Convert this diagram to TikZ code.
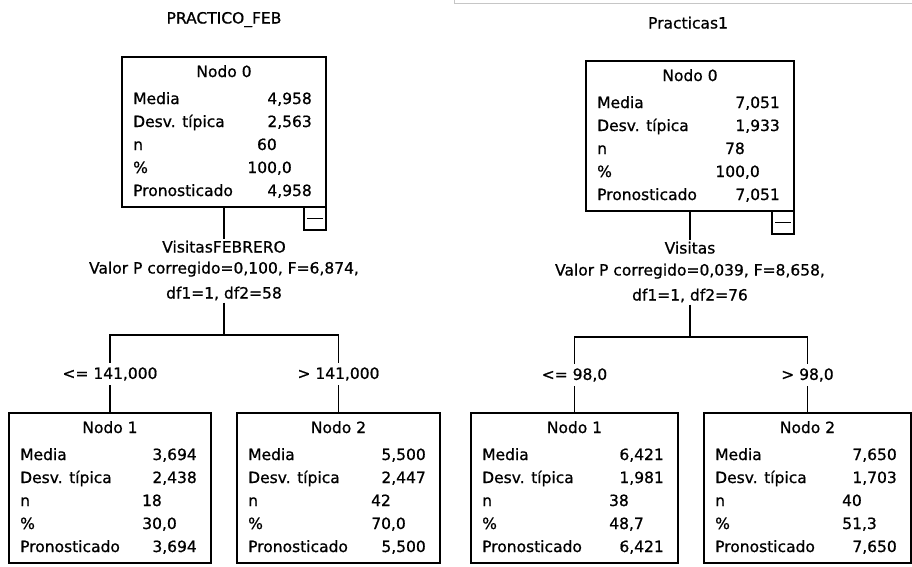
\documentclass[tikz,border=0pt]{standalone}
\usepackage{fontspec}
\setmainfont{DejaVu Sans}[RawFeature={embolden=0.8}]
\begin{document}
\begin{tikzpicture}[x=1pt,y=-1pt,
    font=\fontsize{15.5}{20}\selectfont,
    treebox/.style={draw,line width=1.6pt,fill=white,minimum height=150pt,inner sep=0pt,outer sep=0pt,anchor=north west},
    minusbox/.style={draw,line width=1.6pt,minimum width=22pt,minimum height=23pt,inner sep=0pt,outer sep=0pt,anchor=north east},
    conn/.style={line width=1.6pt},
    cutlbl/.style={fill=white,inner xsep=1pt,inner ysep=4pt},
    splittxt/.style={anchor=base,inner sep=2pt}]
\useasboundingbox (0,0) rectangle (912,566);
\draw[gray!45,line width=1pt] (454,0) -- (454,3) -- (912,3);

% titles
\node[anchor=base] (Ltitle) at (224,23.5) {PRACTICO\_FEB};
\node[anchor=base] (Rtitle) at (688,28.5) {Practicas1};

% boxes: name/left/top/width/title/media/desv/n/pct/pron
\foreach \bname/\bx/\by/\bw/\btitle/\bmed/\bdev/\bn/\bpct/\bpro in {
    L0/122/57/204/Nodo 0/{4,958}/{2,563}/60/{100,0}/{4,958},
    L1/9/413/202/Nodo 1/{3,694}/{2,438}/18/{30,0}/{3,694},
    L2/237/413/203/Nodo 2/{5,500}/{2,447}/42/{70,0}/{5,500},
    R0/586/61/208/Nodo 0/{7,051}/{1,933}/78/{100,0}/{7,051},
    R1/471/413/207/Nodo 1/{6,421}/{1,981}/38/{48,7}/{6,421},
    R2/704/413/207/Nodo 2/{7,650}/{1,703}/40/{51,3}/{7,650}}{
  \node[treebox,minimum width=\bw] (\bname) at (\bx,\by) {};
  \node[anchor=base] (\bname-t) at ([yshift=-20]\bname.north) {\btitle};
  \foreach \blab/\boff [count=\i] in {Media/47,Desv. típica/70,n/93,\%/116,Pronosticado/139}
    \node[anchor=base west,inner sep=0pt] (\bname-l\i) at ([xshift=11,yshift=-\boff]\bname.north west) {\blab};
  \node[anchor=base east,inner sep=0pt] (\bname-v1) at ([xshift=-14,yshift=-47]\bname.north east) {\bmed};
  \node[anchor=base east,inner sep=0pt] (\bname-v2) at ([xshift=-14,yshift=-70]\bname.north east) {\bdev};
  \node[anchor=base east,inner sep=0pt] (\bname-v3) at ([xshift=-49,yshift=-93]\bname.north east) {\bn};
  \node[anchor=base east,inner sep=0pt] (\bname-v4) at ([xshift=-34,yshift=-116]\bname.north east) {\bpct};
  \node[anchor=base east,inner sep=0pt] (\bname-v5) at ([xshift=-14,yshift=-139]\bname.north east) {\bpro};
}

% collapse buttons
\node[minusbox] (L0m) at (L0.south east) {};
\draw[line width=1.6pt] ([xshift=3]L0m.west) -- ([xshift=-3]L0m.east);
\node[minusbox] (R0m) at (R0.south east) {};
\draw[line width=1.6pt] ([xshift=3]R0m.west) -- ([xshift=-3]R0m.east);

% split texts
\node[splittxt] (Lvar) at (224,252.5) {VisitasFEBRERO};
\node[splittxt] (Lp) at (224,273.5) {Valor P corregido=0,100, F=6,874,};
\node[splittxt] (Ldf) at (224,298.5) {df1=1, df2=58};
\node[splittxt] (Rvar) at (690,253.5) {Visitas};
\node[splittxt] (Rp) at (690,275.5) {Valor P corregido=0,039, F=8,658,};
\node[splittxt] (Rdf) at (690,300.5) {df1=1, df2=76};

\coordinate (Lbar) at (224,335);
\coordinate (Rbar) at (690,337);

% connectors
\draw[conn] (L0.south) -- (Lvar.north);
\draw[conn] (Ldf.south) -- (Lbar);
\draw[conn] (L1.north) |- (Lbar) -| (L2.north);
\draw[conn] (R0.south) -- (Rvar.north);
\draw[conn] (Rdf.south) -- (Rbar);
\draw[conn] (R1.north) |- (Rbar) -| (R2.north);

% split values
\path (L1.north) -- (L1.north |- Lbar) node[cutlbl,midway] (L1c) {<= 141,000};
\path (L2.north) -- (L2.north |- Lbar) node[cutlbl,midway] (L2c) {> 141,000};
\path (R1.north) -- (R1.north |- Rbar) node[cutlbl,midway] (R1c) {<= 98,0};
\path (R2.north) -- (R2.north |- Rbar) node[cutlbl,midway] (R2c) {> 98,0};
\end{tikzpicture}
\end{document}
